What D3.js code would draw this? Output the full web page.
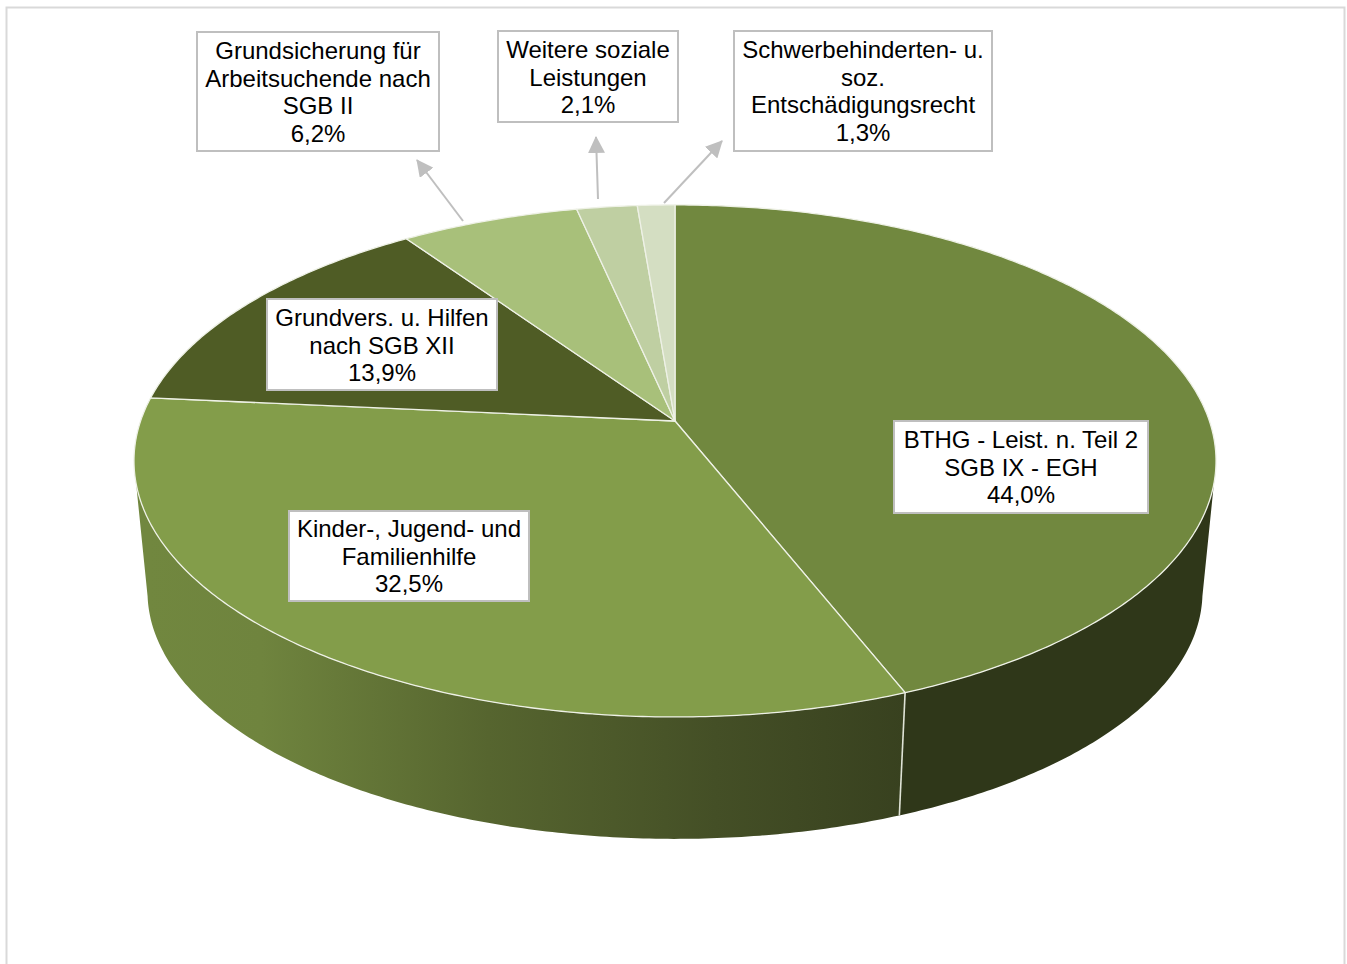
<!DOCTYPE html>
<html>
<head>
<meta charset="utf-8">
<script src="https://cdn.jsdelivr.net/npm/d3@7"></script>
<style>
  html, body { margin: 0; padding: 0; background: #fff; overflow: hidden; }
  text { font-family: "Liberation Sans", Arial, sans-serif; font-size: 24px; fill: #000; }
</style>
</head>
<body>
<div id="chart"></div>
<script>
// data, in the order the pie runs clockwise from 12 o'clock
const categories = [
  ["BTHG - Leist. n. Teil 2", "SGB IX - EGH"],
  ["Kinder-, Jugend- und", "Familienhilfe"],
  ["Grundvers. u. Hilfen", "nach SGB XII"],
  ["Grundsicherung für", "Arbeitsuchende nach", "SGB II"],
  ["Weitere soziale", "Leistungen"],
  ["Schwerbehinderten- u.", "soz.", "Entschädigungsrecht"]
];
const shares = [44.0, 32.5, 13.9, 6.2, 2.1, 1.3];
const topColors = ["#71883f", "#839d4a", "#4f5c25", "#a8c07a", "#bfcfa2", "#d4dec2"];

// label boxes: x0, y0, x1, y1, first baseline below the box top
const labelBoxes = [
  [894, 421, 1148, 513, 27],
  [289, 511, 529, 601, 26],
  [267, 299, 497, 390, 27],
  [197, 32, 439, 151, 27],
  [498, 31, 678, 122, 27],
  [734, 31, 992, 151, 27]
];
// leader arrows for the small slices: slice index, from, to
const leaders = [
  [3, [463, 221], [417, 160]],
  [4, [598, 199], [596, 137]],
  [5, [664, 203], [722, 141]]
];

const width = 1347, height = 964;

// perspective of the tilted disc
const cx = 675, apexY = 421, radX = 534.4, radY = 249.8, persp = 0.156;
const rimScaleX = 0.975, rimScaleY = 0.965, rimShift = 147;

const project = a => {
  const u = Math.sin(a), v = -Math.cos(a), w = 1 / (1 - persp * v);
  return [cx + radX * u * w, apexY + radY * v * w];
};
const projectBottom = a => {
  const p = project(a);
  return [cx + (p[0] - cx) * rimScaleX, p[1] * rimScaleY + rimShift];
};
const arcPoints = (fn, a0, a1) => {
  const n = Math.max(2, Math.ceil(Math.abs(a1 - a0) / 0.01));
  return d3.range(n + 1).map(i => fn(a0 + (a1 - a0) * i / n));
};
const line = d3.line();
const rad = d => d * Math.PI / 180;

const svg = d3.select("#chart").append("svg")
  .attr("width", width)
  .attr("height", height)
  .style("display", "block");

// chart frame runs off the bottom of the page
svg.append("rect")
  .attr("x", 6.5).attr("y", 7.5)
  .attr("width", 1338).attr("height", 990)
  .attr("fill", "#fff")
  .attr("stroke", "#d9d9d9")
  .attr("stroke-width", 2);

const slices = d3.pie().sort(null).value(d => d)(shares);

const defs = svg.append("defs");
const grad = defs.append("linearGradient")
  .attr("id", "sideGrad")
  .attr("gradientUnits", "userSpaceOnUse")
  .attr("x1", 148).attr("x2", 905).attr("y1", 0).attr("y2", 0);
[[0, "#71873f"], [0.15, "#6f843e"], [0.45, "#56652f"], [0.75, "#444f26"], [1, "#38411f"]]
  .forEach(s => grad.append("stop").attr("offset", s[0]).attr("stop-color", s[1]));

// side walls: only the near half of the disc shows
const topStart = rad(104), topEnd = rad(256), botStart = rad(100), botEnd = rad(260);
const split = slices[0].endAngle;

const wall = (t0, t1, b0, b1) =>
  arcPoints(project, t0, t1).concat(arcPoints(projectBottom, b1, b0));

svg.append("path")
  .attr("d", line(wall(topStart, split, botStart, split)) + "Z")
  .attr("fill", "#2f3719");
svg.append("path")
  .attr("d", line(wall(split, topEnd, split, botEnd)) + "Z")
  .attr("fill", "url(#sideGrad)");

svg.append("path")
  .attr("d", line([project(split), projectBottom(split)]))
  .attr("stroke", "#dfe3d6")
  .attr("stroke-width", 1.6)
  .attr("fill", "none");

// top face
svg.selectAll(".slice")
  .data(slices)
  .join("path")
  .attr("class", "slice")
  .attr("d", d => line([[cx, apexY]].concat(arcPoints(project, d.startAngle, d.endAngle))) + "Z")
  .attr("fill", (d, i) => topColors[i])
  .attr("stroke", "#eef1e6")
  .attr("stroke-width", 1.3)
  .attr("stroke-linejoin", "round");

// leaders
defs.append("marker")
  .attr("id", "head")
  .attr("viewBox", "0 0 16 16")
  .attr("refX", 15).attr("refY", 8)
  .attr("markerWidth", 17).attr("markerHeight", 17)
  .attr("markerUnits", "userSpaceOnUse")
  .attr("orient", "auto")
  .append("path")
  .attr("d", "M0,0L16,8L0,16Z")
  .attr("fill", "#bfbfbf");

svg.selectAll(".leader")
  .data(leaders)
  .join("line")
  .attr("class", "leader")
  .attr("x1", d => d[1][0]).attr("y1", d => d[1][1])
  .attr("x2", d => d[2][0]).attr("y2", d => d[2][1])
  .attr("stroke", "#bfbfbf")
  .attr("stroke-width", 2)
  .attr("marker-end", "url(#head)");

// labels
const fmt = v => v.toFixed(1).replace(".", ",") + "%";
const label = svg.selectAll(".label")
  .data(categories)
  .join("g")
  .attr("class", "label");

label.append("rect")
  .attr("x", (d, i) => labelBoxes[i][0])
  .attr("y", (d, i) => labelBoxes[i][1])
  .attr("width", (d, i) => labelBoxes[i][2] - labelBoxes[i][0])
  .attr("height", (d, i) => labelBoxes[i][3] - labelBoxes[i][1])
  .attr("fill", "#fff")
  .attr("stroke", "#bfbfbf")
  .attr("stroke-width", 2);

label.each(function(d, i) {
  const box = labelBoxes[i];
  const lines = d.concat(fmt(shares[i]));
  d3.select(this).selectAll("text")
    .data(lines)
    .join("text")
    .attr("x", (box[0] + box[2]) / 2)
    .attr("y", (t, j) => box[1] + box[4] + j * 27.6)
    .attr("text-anchor", "middle")
    .text(t => t);
});
</script>
</body>
</html>
